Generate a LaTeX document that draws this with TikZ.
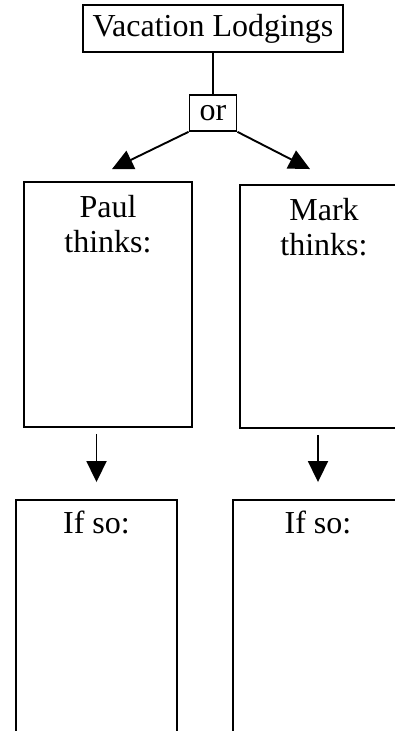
\documentclass[tikz,border=0pt]{standalone}
\usepackage{fontspec}
\setmainfont{Liberation Serif}
\usetikzlibrary{arrows.meta, positioning}

\begin{document}
\begin{tikzpicture}[
        x=1pt, y=-1pt,
        font=\fontsize{32}{35}\selectfont,
        box/.style={rectangle, draw, line width=1.9pt},
        sheet/.style={box, minimum width=#1},
        arrow/.style={-{Triangle[length=21pt, width=20pt]}, line width=1.9pt}
    ]
    \useasboundingbox (0,0) rectangle (395,731);
    \clip (0,0) rectangle (395,731);

    \node[box, minimum width=260pt, minimum height=47pt, inner sep=0pt] (lodg) at (213,28.5) {Vacation Lodgings};
    \node[box, minimum width=47pt, minimum height=36pt, inner sep=0pt] (or) [below=41pt of lodg] {or};

    \node[sheet=168pt, minimum height=245pt, label={[anchor=north, align=center, yshift=-11pt]north:Paul\\thinks:}] (paul) at (108,304.5) {};
    \node[sheet=168pt, minimum height=243pt, label={[anchor=north, align=center, yshift=-11pt]north:Mark\\thinks:}] (mark) at (324,306.5) {};
    \node[sheet=161pt, minimum height=240pt, label={[anchor=north, yshift=-8pt]north:If so:}] (ifso1) at (96.5,620) {};
    \node[sheet=170pt, minimum height=240pt, label={[anchor=north, yshift=-8pt]north:If so:}] (ifso2) at (318,620) {};

    \coordinate (tip1) at ([shift={(4,-12)}]paul.north);
    \coordinate (tip2) at ([shift={(-14,-15)}]mark.north);

    \draw[line width=1.9pt] (lodg.south) -- (or.north);
    \draw[arrow] (or.south west) -- (tip1);
    \draw[arrow] (or.south east) -- (tip2);
    \draw[arrow] ([yshift=-6pt]paul.south -| ifso1.north) -- ([yshift=17pt]ifso1.north);
    \draw[arrow] ([yshift=-6pt]mark.south -| ifso2.north) -- ([yshift=17pt]ifso2.north);
\end{tikzpicture}
\end{document}
